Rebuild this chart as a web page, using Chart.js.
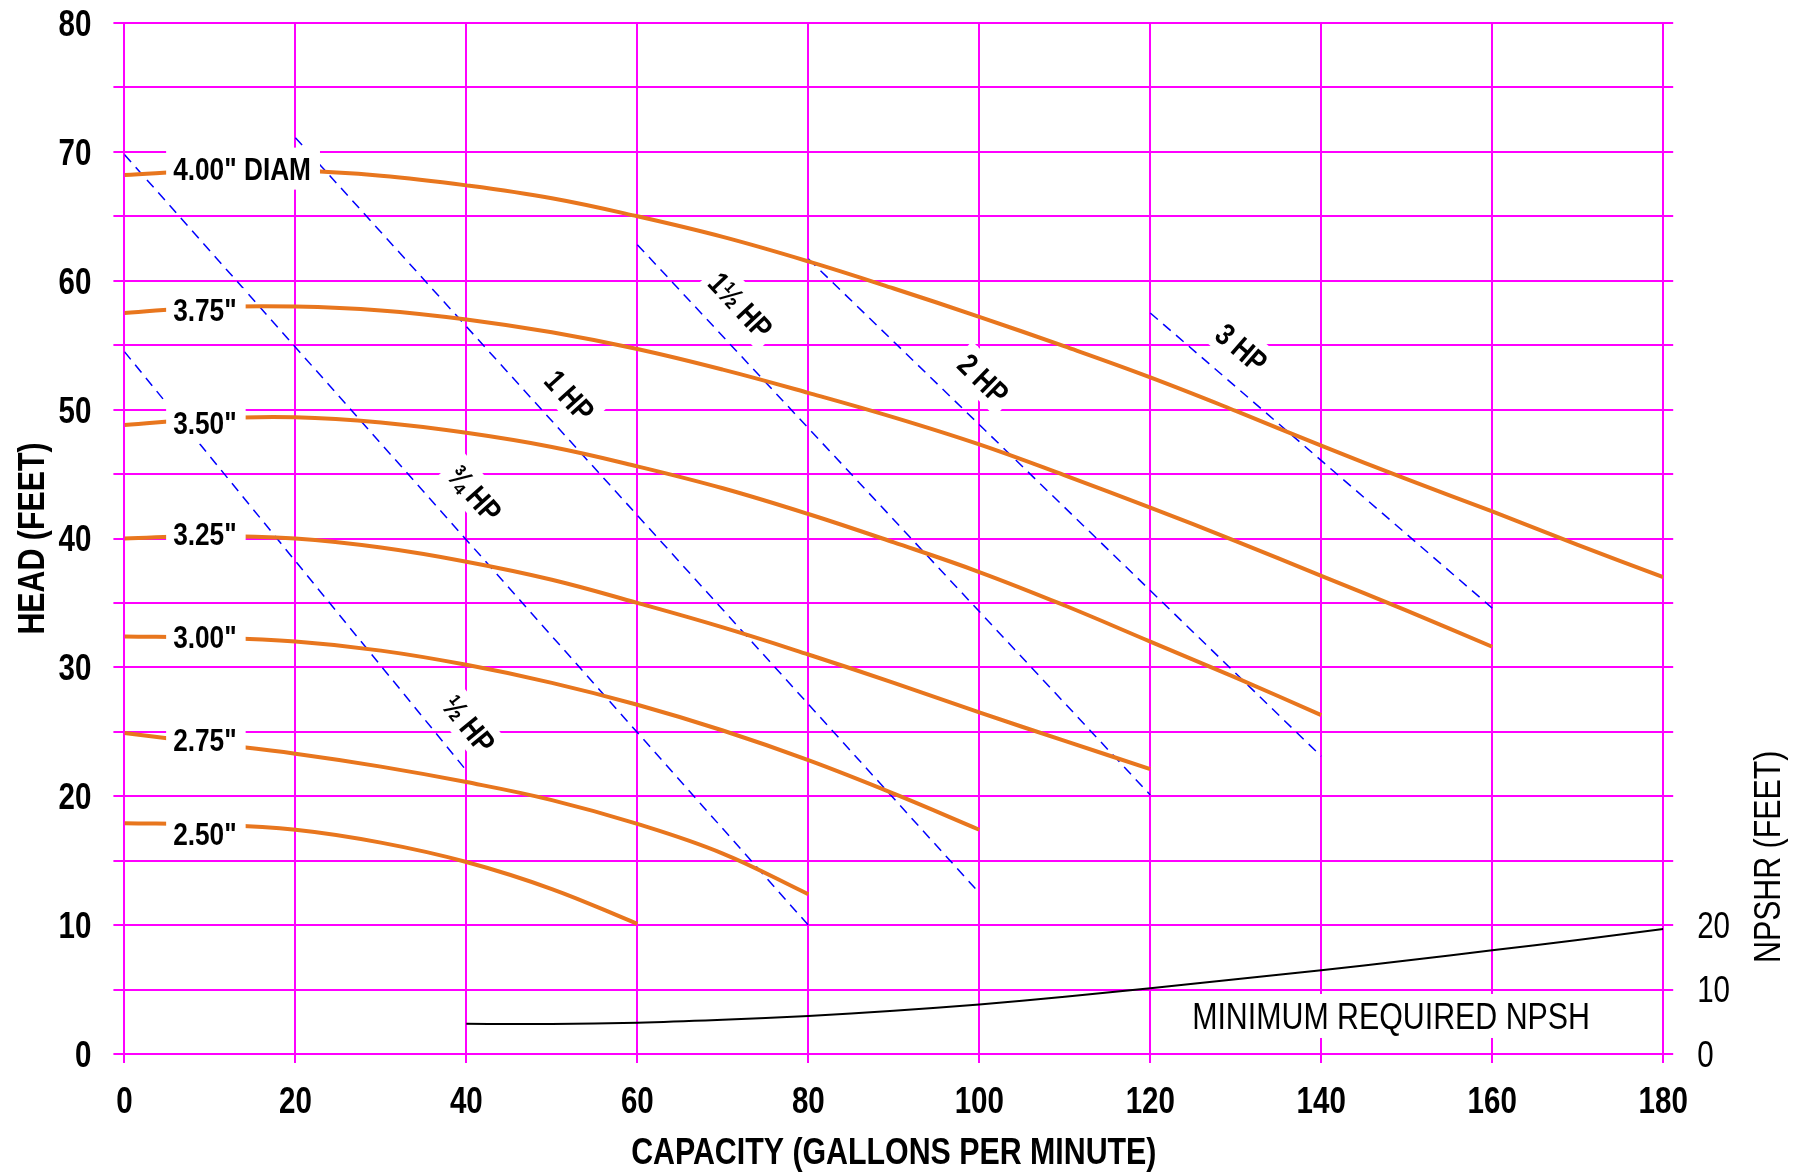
<!DOCTYPE html>
<html><head><meta charset="utf-8">
<script src="https://cdn.jsdelivr.net/npm/chart.js@4.4.1/dist/chart.umd.min.js"></script>
<style>html,body{margin:0;padding:0;background:#fff;overflow:hidden}#wrap{width:1806px;height:1173px;position:relative}</style>
</head><body><div id="wrap"><canvas id="c" width="1806" height="1173"></canvas></div>
<script>
// ---------- DATA ----------
const gpm = [0,10,20,30,40,50,60,70,80,90,100,110,120,130,140,150,160,170,180];
const head400 = [68.2,68.55,68.55,68.15,67.4,66.4,65.0,63.4,61.5,59.4,57.2,54.9,52.5,49.9,47.2,44.6,42.1,39.5,37.0];
const head375 = [57.5,57.95,58.0,57.7,57.0,56.0,54.7,53.1,51.3,49.4,47.3,44.9,42.4,39.8,37.1,34.4,31.6];
const head350 = [48.8,49.3,49.4,49.0,48.2,47.1,45.6,43.9,41.9,39.7,37.4,34.8,32.0,29.2,26.3];
const head325 = [40.0,40.2,40.0,39.3,38.2,36.8,35.0,33.1,31.0,28.8,26.5,24.3,22.1];
const head300 = [32.4,32.3,32.0,31.3,30.2,28.8,27.1,25.1,22.8,20.2,17.4];
const head275 = [24.9,24.1,23.3,22.3,21.1,19.7,17.85,15.55,12.4];
const head250 = [17.9,17.8,17.4,16.4,14.9,12.8,10.1];
const diamLabels = ['4.00" DIAM','3.75"','3.50"','3.25"','3.00"','2.75"','2.50"'];

const npshGpm = [40,50,60,70,80,90,100,110,120,130,140,150,160,170,180];
const npshr   = [4.7,4.65,4.85,5.3,5.9,6.7,7.7,8.9,10.2,11.6,13.0,14.5,16.1,17.7,19.4];

const hpLabels = ['\u00BD HP','\u00BE HP','1 HP','1\u00BD HP','2 HP','3 HP'];
const hpGpm  = [[0,40],[0,80],[20,100],[60,120],[80,140],[120,160]];
const hpHead = [[54.5,22.0],[69.8,10.0],[71.1,12.5],[62.8,20.1],[61.7,23.1],[57.5,34.6]];

const xTicks = [0,20,40,60,80,100,120,140,160,180];
const npshrTickMax = 20;
const xTitle = 'CAPACITY (GALLONS PER MINUTE)';
const yTitle = 'HEAD (FEET)';
const y2Title = 'NPSHR (FEET)';
const npshText = 'MINIMUM REQUIRED NPSH';

// ---------- annotation placement (data units) ----------
const diamLabelAt = {x:5.7, heads:[68.7,57.8,49.0,40.4,32.4,24.4,17.1]};
const hpLabelAt = [[40.3,25.6],[41.0,43.5],[52.1,51.1],[72.1,58.1],[100.5,52.4],[130.7,54.8]];
const npshTextAt = {x:124.9, y:2.95};

// ---------- STYLE ----------
const FAM = '"Liberation Sans", Arial, sans-serif';
const SX = 0.82;          // narrow (condensed) rendering
const CAP = 0.716;        // cap-height ratio
const ORANGE = '#e8761e';
const MAGENTA = '#ff00ff';
Chart.defaults.font.family = FAM;

const heads = [head400,head375,head350,head325,head300,head275,head250];
const datasets = [];
heads.forEach(h => datasets.push({
  data: h.map((y,i)=>({x:gpm[i], y})),
  borderColor: ORANGE, borderWidth: 4, pointRadius: 0,
  tension: 0.4, xAxisID:'x', yAxisID:'y'
}));
hpGpm.forEach((xs,i)=>datasets.push({
  data: xs.map((x,j)=>({x, y:hpHead[i][j]})),
  borderColor:'#0000ff', borderWidth:1.5, borderDash:[10,7], pointRadius:0,
  xAxisID:'x', yAxisID:'y'
}));
datasets.push({
  data: npshGpm.map((x,i)=>({x, y:npshr[i]})),
  borderColor:'#000', borderWidth:2, pointRadius:0,
  tension: 0.4, xAxisID:'x', yAxisID:'y2'
});

// draw narrow text; (x,y) = anchor on the cap-height centre line
function nText(ctx, text, x, y, size, bold, align, rot){
  ctx.save();
  ctx.translate(x, y);
  ctx.rotate(rot||0);
  ctx.scale(SX, 1);
  ctx.font = (bold?'bold ':'') + size + 'px ' + FAM;
  ctx.textAlign = align || 'left';
  ctx.textBaseline = 'alphabetic';
  ctx.fillStyle = '#000';
  ctx.fillText(text, 0, size*CAP/2);
  ctx.restore();
}
function nWidth(ctx, text, size, bold){
  ctx.save();
  ctx.font = (bold?'bold ':'') + size + 'px ' + FAM;
  const w = ctx.measureText(text).width*SX;
  ctx.restore();
  return w;
}
function hpAngle(chart,i){
  const xs=chart.scales.x, ys=chart.scales.y;
  const x0=xs.getPixelForValue(hpGpm[i][0]), x1=xs.getPixelForValue(hpGpm[i][1]);
  const y0=ys.getPixelForValue(hpHead[i][0]), y1=ys.getPixelForValue(hpHead[i][1]);
  return Math.atan2(y1-y0, x1-x0);
}
const HPSIZE = 31, DIAMSIZE = 32, NPSHSIZE = 37, TICKSIZE = 36, TITLESIZE = 37;

const annot = {
  id:'annot',
  beforeDatasetsDraw(chart){
    const ctx=chart.ctx, xs=chart.scales.x, ys=chart.scales.y;
    ctx.save();
    ctx.fillStyle='#fff';
    hpLabels.forEach((t,i)=>{
      const w = nWidth(ctx, t, HPSIZE, true);
      ctx.save();
      ctx.translate(xs.getPixelForValue(hpLabelAt[i][0]), ys.getPixelForValue(hpLabelAt[i][1]));
      ctx.rotate(hpAngle(chart,i));
      ctx.fillRect(-w/2-6, -19, w+12, 38);
      ctx.restore();
    });
    const nw = nWidth(ctx, npshText, NPSHSIZE, false);
    const nx = xs.getPixelForValue(npshTextAt.x), ny = ys.getPixelForValue(npshTextAt.y);
    ctx.fillRect(nx-8, ny-22, nw+16, 44);
    ctx.restore();
  },
  afterDatasetsDraw(chart){
    const ctx=chart.ctx, xs=chart.scales.x, ys=chart.scales.y, y2=chart.scales.y2;
    ctx.save();
    // diameter labels (white box interrupts curve)
    diamLabels.forEach((t,i)=>{
      const x = xs.getPixelForValue(diamLabelAt.x), y = ys.getPixelForValue(diamLabelAt.heads[i]);
      const w = nWidth(ctx, t, DIAMSIZE, true);
      ctx.fillStyle='#fff';
      ctx.fillRect(x-7, y-21, w+16, 42);
      nText(ctx, t, x, y, DIAMSIZE, true, 'left');
    });
    // HP labels
    hpLabels.forEach((t,i)=>{
      nText(ctx, t, xs.getPixelForValue(hpLabelAt[i][0]), ys.getPixelForValue(hpLabelAt[i][1]), HPSIZE, true, 'center', hpAngle(chart,i));
    });
    // NPSH text
    nText(ctx, npshText, xs.getPixelForValue(npshTextAt.x), ys.getPixelForValue(npshTextAt.y), NPSHSIZE, false, 'left');

    // tick labels drawn from the library's scales
    xs.ticks.forEach(t=>{
      nText(ctx, String(t.value), xs.getPixelForValue(t.value), xs.top + 46, TICKSIZE, true, 'center');
    });
    ys.ticks.forEach(t=>{
      if (t.value % 10 === 0) nText(ctx, String(t.value), ys.left + 91.4, ys.getPixelForValue(t.value), TICKSIZE, true, 'right');
    });
    y2.ticks.forEach(t=>{
      if (t.value <= npshrTickMax) nText(ctx, String(t.value), y2.left + 34, y2.getPixelForValue(t.value), TICKSIZE, false, 'left');
    });
    // axis titles
    const ca = chart.chartArea;
    nText(ctx, xTitle, (ca.left+ca.right)/2, 1151, TITLESIZE, true, 'center');
    nText(ctx, yTitle, 30.5, (ca.top+ca.bottom)/2, TITLESIZE, true, 'center', -Math.PI/2);
    nText(ctx, y2Title, y2.right - 39, ys.getPixelForValue(15.3), TITLESIZE, false, 'center', -Math.PI/2);
    ctx.restore();
  }
};

new Chart(document.getElementById('c'), {
  type:'line',
  data:{datasets},
  options:{
    responsive:false, animation:false, devicePixelRatio:1,
    layout:{padding:{top:23,left:0,right:0,bottom:0}},
    plugins:{legend:{display:false}, tooltip:{enabled:false}},
    scales:{
      x:{type:'linear', min:0, max:180,
        afterBuildTicks(s){ s.ticks = xTicks.map(v=>({value:v})); },
        ticks:{display:false},
        grid:{color:MAGENTA, lineWidth:2, tickLength:9},
        border:{display:false},
        afterFit(s){ s.height = 119; }
      },
      y:{type:'linear', position:'left', min:0, max:80,
        ticks:{stepSize:5, autoSkip:false, display:false},
        grid:{color:MAGENTA, lineWidth:2, tickLength:11},
        border:{display:false},
        afterFit(s){ s.width = 124.4; }
      },
      y2:{type:'linear', position:'right', min:0, max:160,
        ticks:{stepSize:10, autoSkip:false, display:false},
        grid:{drawOnChartArea:false, color:MAGENTA, lineWidth:2, tickLength:10},
        border:{display:false},
        afterFit(s){ s.width = 142.8; }
      }
    }
  },
  plugins:[annot]
});
</script>
</body></html>
